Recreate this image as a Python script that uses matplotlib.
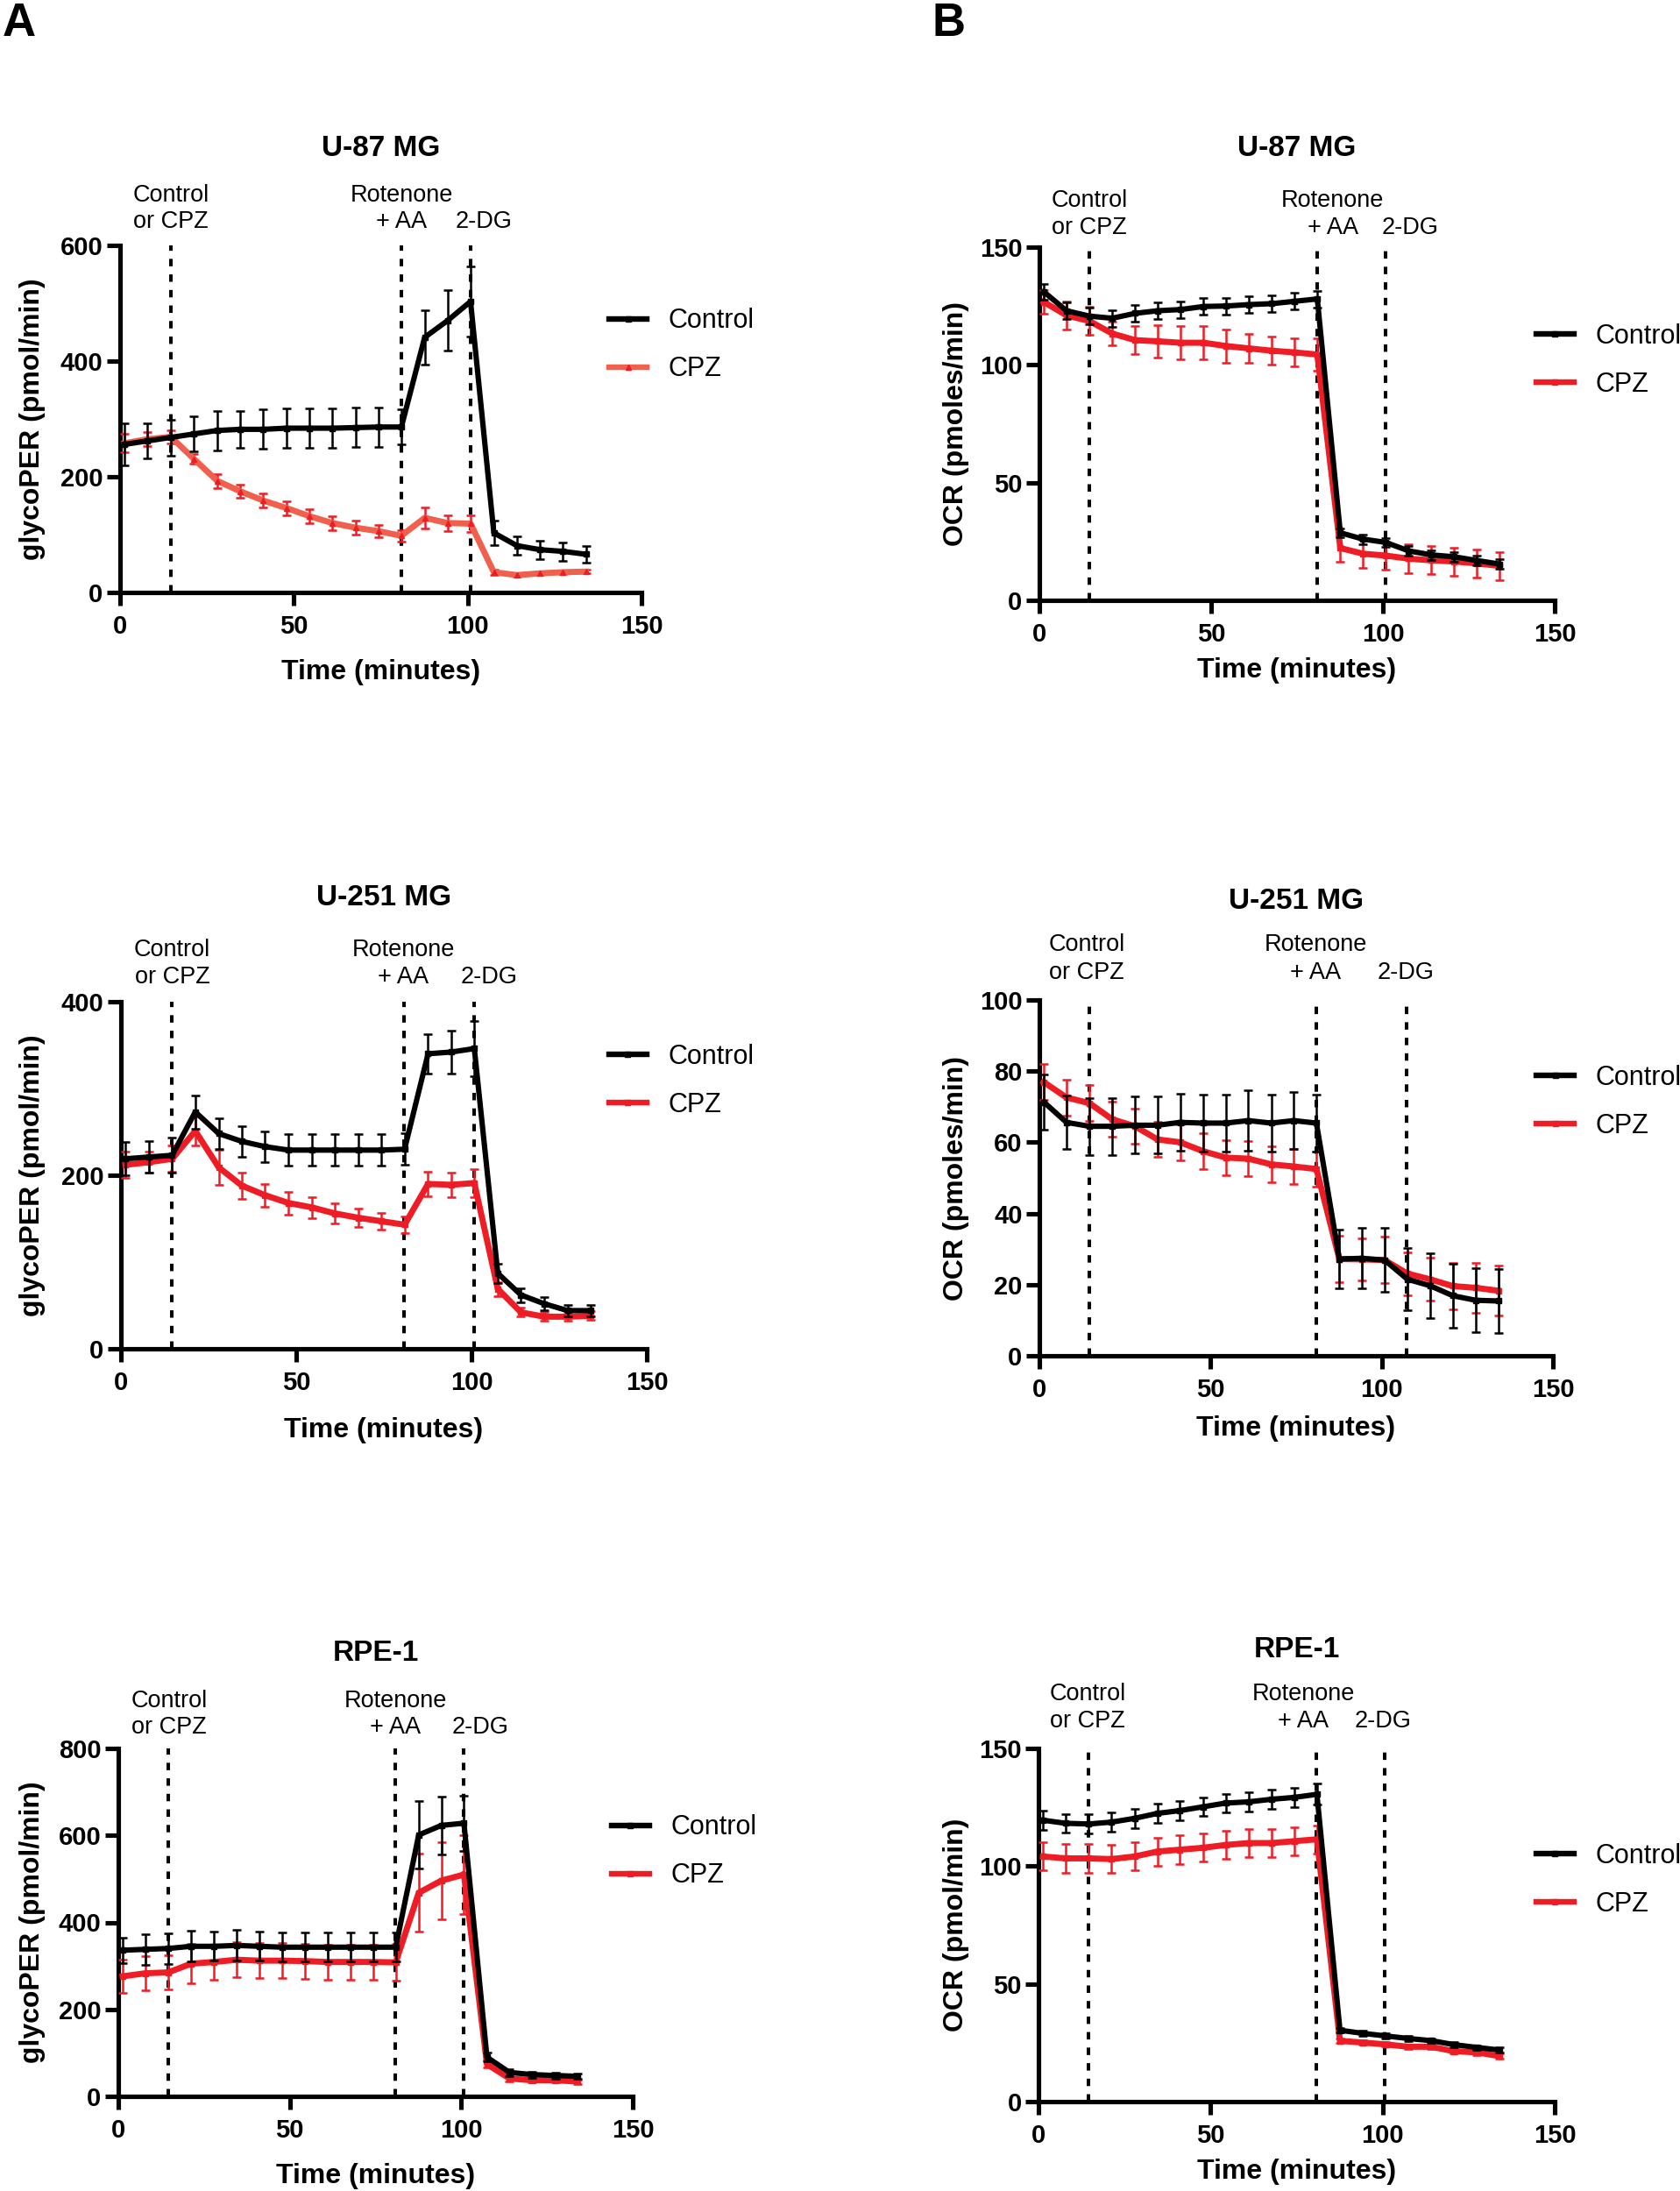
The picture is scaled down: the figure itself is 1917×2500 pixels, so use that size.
import matplotlib
matplotlib.use("Agg")
import matplotlib.pyplot as plt
from matplotlib.lines import Line2D

plt.rcParams['font.family'] = ['Liberation Sans', 'DejaVu Sans']

# measurement times (minutes), same for every panel
times = [1.3, 7.9, 14.6, 21.2, 27.9, 34.5, 41.1, 47.8, 54.4, 61.0, 67.7,
         74.3, 80.9, 87.6, 94.2, 100.8, 107.5, 114.1, 120.7, 127.4, 134.0]

# A: glycoPER
u87_per_ctrl = [256, 262, 268, 274, 280, 282, 282, 284, 284, 284, 285, 286, 286, 441, 470, 503, 103, 81, 74, 71, 66]
u87_per_ctrl_err = [37, 30, 31, 30, 34, 32, 34, 34, 34, 34, 34, 34, 30, 47, 52, 60, 21, 16, 16, 16, 14]
u87_per_cpz = [258, 265, 269, 231, 193, 175, 159, 146, 132, 120, 112, 106, 98, 129, 120, 119, 35, 30, 33, 35, 36]
u87_per_cpz_err = [16, 12, 12, 8, 12, 12, 12, 12, 12, 12, 12, 10, 10, 18, 14, 14, 4, 3, 3, 3, 3]

u251_per_ctrl = [219, 221, 223, 273, 248, 239, 233, 229, 229, 229, 229, 229, 230, 340, 342, 346, 87, 62, 52, 44, 44]
u251_per_ctrl_err = [19, 18, 20, 19, 18, 18, 18, 18, 18, 18, 18, 18, 18, 23, 25, 32, 11, 8, 8, 7, 7]
u251_per_cpz = [212, 215, 219, 251, 209, 188, 177, 168, 163, 156, 151, 147, 143, 190, 189, 191, 69, 42, 37, 37, 38]
u251_per_cpz_err = [15, 12, 15, 17, 20, 15, 13, 13, 12, 12, 11, 10, 10, 14, 14, 16, 8, 5, 5, 5, 5]

rpe_per_ctrl = [336, 338, 340, 345, 345, 347, 345, 343, 343, 343, 343, 343, 343, 601, 623, 628, 90, 55, 50, 48, 46]
rpe_per_ctrl_err = [29, 35, 35, 35, 33, 35, 33, 33, 33, 33, 33, 33, 33, 78, 66, 64, 10, 8, 7, 7, 6]
rpe_per_cpz = [276, 283, 285, 305, 309, 314, 312, 312, 311, 309, 309, 309, 308, 468, 496, 510, 74, 41, 37, 37, 34]
rpe_per_cpz_err = [38, 40, 40, 45, 40, 40, 40, 40, 40, 40, 40, 40, 42, 90, 88, 90, 8, 6, 5, 5, 5]

# B: OCR
u87_ocr_ctrl = [131, 123, 120.7, 119.8, 121.9, 123, 123.5, 124.8, 125, 125.6, 126, 127, 128, 28.7, 26, 24.6, 21, 19.3, 18.5, 16.9, 15.4]
u87_ocr_ctrl_err = [3.5, 3.5, 3.5, 3.5, 3.5, 3.5, 3.5, 3.5, 3.5, 3.5, 3.5, 3.5, 3.5, 2, 2, 2, 2, 2, 2, 2, 2]
u87_ocr_cpz = [126.7, 121, 118.6, 113.3, 110.5, 110, 109.4, 109.4, 108, 107, 106, 105.3, 104.4, 22.2, 19.8, 19, 17.7, 17, 16.5, 15.7, 14.6]
u87_ocr_cpz_err = [5, 6, 6, 5, 6, 7, 7, 7, 7, 6, 6, 6, 7, 6, 6, 6, 6, 6, 6, 6, 6]

u251_ocr_ctrl = [71.3, 65.6, 64.5, 64.5, 64.8, 64.8, 65.6, 65.4, 65.4, 66.1, 65.4, 66.1, 65.4, 27.2, 27.4, 26.9, 21.5, 19.7, 16.9, 15.6, 15.4]
u251_ocr_ctrl_err = [7.7, 7.5, 8, 8, 8, 8, 8, 8, 8, 8.5, 8, 8, 8, 8.3, 8.5, 9, 8.8, 9, 9, 9, 9]
u251_ocr_cpz = [76.9, 72.6, 71, 66.5, 64.5, 60.8, 60, 57.5, 55.7, 55.4, 53.8, 53.2, 52.5, 27.2, 27.1, 26.9, 23.1, 21.5, 19.6, 19.1, 18.3]
u251_ocr_cpz_err = [5, 5, 5, 5, 5, 5, 5, 5, 5, 5, 5, 5, 5, 6.5, 6, 6.5, 6, 6, 6.5, 7, 7]

rpe_ocr_ctrl = [119.5, 118.2, 117.9, 118.7, 120.3, 122.4, 123.6, 125.2, 126.8, 127.3, 128.4, 129.2, 130.5, 30.3, 29, 27.9, 26.8, 25.9, 24.2, 23, 21.9]
rpe_ocr_ctrl_err = [4, 4, 4, 4, 4, 4, 4, 4, 4, 4, 4, 4, 4.5, 1, 1, 1, 1, 1, 1, 1, 1]
rpe_ocr_cpz = [104.1, 103.3, 103.3, 103, 104.1, 106.2, 107, 107.8, 109, 109.8, 109.8, 110.6, 111.4, 25.8, 25.1, 24.3, 23.3, 23.3, 21.4, 20.9, 19.3]
rpe_ocr_cpz_err = [6, 6, 6, 6, 6, 6, 6, 6, 6, 6, 6, 6, 6, 1, 1, 1, 1, 1, 1, 1, 1]

x_ticks = [0, 50, 100, 150]

BLACK = '#000000'
RED = '#ee1c24'
SALMON = '#f0604c'

fig = plt.figure(figsize=(19.17, 25), dpi=100)


def draw_panel(rect, title, ylabel, ymax, yticks, ctrl, ctrl_err, cpz, cpz_err,
               injections, ann_x, ann_off, legend_xy, ylab_x, xlab_y, title_y,
               cpz_color=RED, cpz_marker='s'):
    ax = fig.add_axes(rect)

    # treatment time lines
    for x in injections:
        ax.axvline(x, color='black', lw=2.9, ls=(0, (2.1, 2.3)), zorder=1)

    ax.errorbar(times, cpz, yerr=cpz_err, color=cpz_color, lw=5,
                ecolor=RED, elinewidth=1.8, capsize=3.8, capthick=1.8,
                marker=cpz_marker, ms=4, mfc=RED, mec=RED, zorder=3, clip_on=False)
    ax.errorbar(times, ctrl, yerr=ctrl_err, color=BLACK, lw=4.4,
                elinewidth=1.8, capsize=3.8, capthick=1.8,
                marker='s', ms=4, zorder=4, clip_on=False)

    ax.set_xlim(0, 150)
    ax.set_ylim(0, ymax)
    ax.set_xticks(x_ticks)
    ax.set_yticks(yticks)
    for s in ['top', 'right']:
        ax.spines[s].set_visible(False)
    for s in ['left', 'bottom']:
        ax.spines[s].set_linewidth(3.7)
    ax.tick_params(width=3.7, length=11, labelsize=21)
    ax.tick_params(axis='x', pad=7)
    ax.tick_params(axis='y', pad=3)
    for lab in ax.get_xticklabels() + ax.get_yticklabels():
        lab.set_fontweight('bold')

    ax.set_xlabel('Time (minutes)', fontsize=23, fontweight='bold', va='center')
    ax.xaxis.set_label_coords(0.5, xlab_y)
    ax.set_ylabel(ylabel, fontsize=23, fontweight='bold', va='center')
    ax.yaxis.set_label_coords(ylab_x, 0.5)

    ax.text(0.5, title_y, title, transform=ax.transAxes, ha='center', va='center',
            fontsize=24, fontweight='bold')

    # injection labels
    up, low = ann_off
    tr = ax.get_xaxis_transform()
    lines = [(ann_x[0], up, 'Control'), (ann_x[0], low, 'or CPZ'),
             (ann_x[1], up, 'Rotenone'), (ann_x[1], low, '+ AA'),
             (ann_x[2], low, '2-DG')]
    for x, off, s in lines:
        ax.annotate(s, xy=(x, 1), xycoords=tr, xytext=(0, off * 0.72),
                    textcoords='offset points', ha='center', va='baseline',
                    fontsize=19.5, annotation_clip=False)

    handles = [Line2D([], [], color=BLACK, lw=4.6, marker='s', ms=4),
               Line2D([], [], color=cpz_color, lw=4.6, marker=cpz_marker, ms=4,
                      mfc=RED, mec=RED)]
    ax.legend(handles, ['Control', 'CPZ'], loc='upper left', bbox_to_anchor=legend_xy,
              frameon=False, fontsize=22, handlelength=1.4, handletextpad=0.8,
              labelspacing=0.82, borderpad=0, borderaxespad=0)
    return ax


draw_panel([0.0715, 0.7296, 0.3104, 0.1584], 'U-87 MG', 'glycoPER (pmol/min)', 600,
           [0, 200, 400, 600], u87_per_ctrl, u87_per_ctrl_err, u87_per_cpz, u87_per_cpz_err,
           [14.6, 80.8, 100.7], [14.6, 80.9, 104.6], (50, 19.5), (0.938, 0.82),
           -0.168, -0.230, 1.28, cpz_color=SALMON, cpz_marker='^')
draw_panel([0.6187, 0.726, 0.3067, 0.1612], 'U-87 MG', 'OCR (pmoles/min)', 150,
           [0, 50, 100, 150], u87_ocr_ctrl, u87_ocr_ctrl_err, u87_ocr_cpz, u87_ocr_cpz_err,
           [14.6, 80.8, 100.7], [14.6, 85.4, 107.8], (46, 15), (0.964, 0.785),
           -0.162, -0.199, 1.28)
draw_panel([0.072, 0.3844, 0.313, 0.1584], 'U-251 MG', 'glycoPER (pmol/min)', 400,
           [0, 200, 400], u251_per_ctrl, u251_per_ctrl_err, u251_per_cpz, u251_per_cpz_err,
           [14.6, 80.8, 100.7], [14.6, 80.5, 104.9], (51.5, 20.5), (0.928, 0.88),
           -0.168, -0.235, 1.298)
draw_panel([0.6187, 0.3812, 0.3057, 0.1624], 'U-251 MG', 'OCR (pmoles/min)', 100,
           [0, 20, 40, 60, 80, 100], u251_ocr_ctrl, u251_ocr_ctrl_err, u251_ocr_cpz,
           u251_ocr_cpz_err, [14.6, 80.8, 107.3], [13.9, 80.7, 107.1], (55.6, 24.2),
           (0.968, 0.818), -0.162, -0.204, 1.278)
draw_panel([0.0704, 0.0432, 0.3062, 0.1588], 'RPE-1', 'glycoPER (pmol/min)', 800,
           [0, 200, 400, 600, 800], rpe_per_ctrl, rpe_per_ctrl_err, rpe_per_cpz, rpe_per_cpz_err,
           [14.6, 80.8, 100.7], [14.9, 80.9, 105.6], (47.5, 17.5), (0.959, 0.81),
           -0.167, -0.229, 1.274)
draw_panel([0.6182, 0.0408, 0.3072, 0.1612], 'RPE-1', 'OCR (pmol/min)', 150,
           [0, 50, 100, 150], rpe_ocr_ctrl, rpe_ocr_ctrl_err, rpe_ocr_cpz, rpe_ocr_cpz_err,
           [14.6, 80.8, 100.7], [14.3, 76.9, 100.2], (55, 23.8), (0.964, 0.732),
           -0.16, -0.199, 1.28)

fig.text(3 / 1917, 1 - 27 / 2500, 'A', fontsize=38, fontweight='bold', va='center', ha='left')
fig.text(1063 / 1917, 1 - 27 / 2500, 'B', fontsize=38, fontweight='bold', va='center', ha='left')

fig.savefig('out.png', dpi=100)
